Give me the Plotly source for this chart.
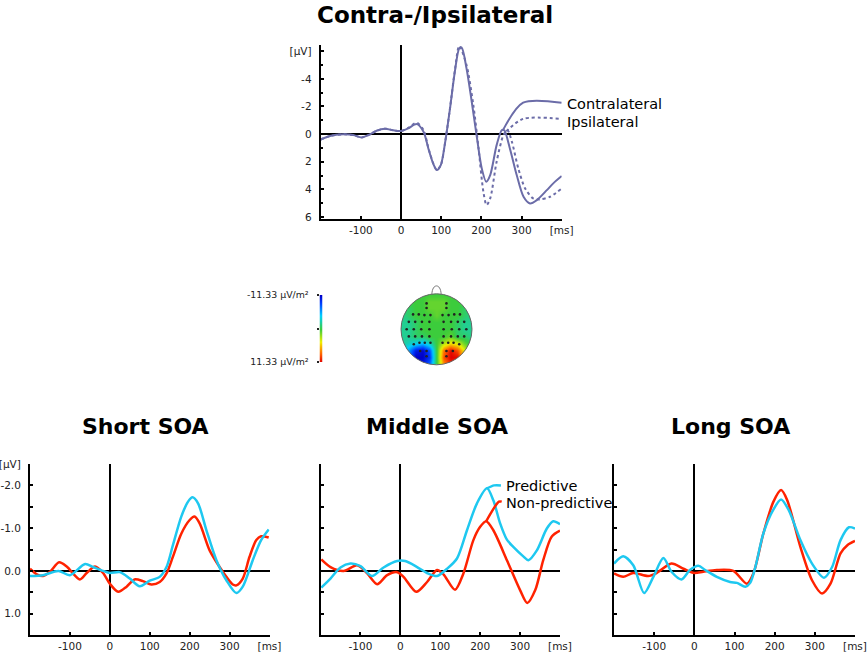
import numpy as np
import plotly.graph_objects as go

W, H = 868, 654

# ---------------- data ----------------
# Top panel: Contra-/Ipsilateral
contra_t = [-200, -177, -144, -119, -98, -77, -61, -40, -19, 0, 18, 39, 56, 68, 80, 89, 99, 110, 122, 134, 145,
            151, 163, 176, 188, 201, 212, 222, 238, 251, 257, 271, 288, 305, 321, 338, 363, 379, 400]
contra_v = [0.39, 0.14, 0.02, 0.07, 0.24, 0.02, -0.24, -0.39, -0.27, -0.22, -0.41, -0.72, -0.17, 1.04, 2.13, 2.61,
            2.25, 0.56, -1.86, -4.52, -6.21, -6.26, -4.76, -2.34, 0.07, 2.49, 3.45, 2.97, 0.8, -0.29, -0.27, 1.04,
            2.97, 4.54, 5.02, 4.78, 4.06, 3.57, 3.04]
ipsi_t = [-200, -177, -144, -119, -98, -77, -61, -40, -19, 0, 18, 39, 56, 68, 80, 89, 99, 110, 122, 134, 145, 163,
          180, 193, 205, 213, 222, 238, 255, 265, 276, 292, 309, 329, 346, 371, 400]
ipsi_v = [0.39, 0.14, 0.02, 0.07, 0.24, 0.02, -0.24, -0.39, -0.27, -0.22, -0.45, -0.82, -0.29, 1.0, 2.1, 2.6, 2.25,
          0.56, -1.9, -4.6, -6.38, -5.0, -2.1, 1.04, 4.18, 5.14, 4.66, 2.0, 0.07, -0.29, 0.56, 2.49, 3.94, 4.66,
          4.73, 4.54, 3.94]
contra_leader_t = [253, 304, 400]
contra_leader_v = [-0.25, -2.27, -2.27]
ipsi_leader_t = [262, 304, 400]
ipsi_leader_v = [-0.2, -1.1, -1.1]

# Short SOA
short_red_t = [-200, -183, -167, -150, -127, -108, -75, -58, -37, -17, 0, 21, 42, 62, 83, 104, 125, 142, 158, 179,
               200, 212, 225, 250, 275, 292, 308, 317, 333, 350, 367, 379, 398]
short_red_v = [-0.05, 0.08, 0.12, 0.02, -0.2, -0.1, 0.2, 0.05, -0.1, 0.05, 0.3, 0.49, 0.37, 0.2, 0.24, 0.32, 0.26,
               0.06, -0.33, -0.87, -1.19, -1.27, -1.11, -0.48, -0.09, 0.14, 0.32, 0.34, 0.18, -0.33, -0.72, -0.81,
               -0.78]
short_cyan_t = [-200, -167, -129, -100, -62, -42, -17, 0, 25, 50, 75, 100, 125, 142, 158, 179, 196, 207, 221, 242,
                267, 292, 317, 333, 358, 379, 398]
short_cyan_v = [0.12, 0.1, 0.0, 0.1, -0.16, -0.09, 0.0, 0.05, 0.03, 0.18, 0.36, 0.23, 0.14, -0.09, -0.6, -1.27,
                -1.62, -1.72, -1.58, -0.95, -0.25, 0.22, 0.52, 0.37, -0.25, -0.72, -0.97]

# Middle SOA
mid_red_t = [-198, -175, -142, -108, -83, -58, -33, -8, 8, 40, 67, 92, 108, 137, 158, 183, 200, 215, 233, 267, 300,
             318, 338, 358, 379, 400]
mid_red_v = [-0.27, -0.09, 0.0, -0.13, 0.06, 0.31, 0.1, 0.03, 0.14, 0.49, 0.26, -0.02, 0.08, 0.44, 0.06, -0.72,
             -1.03, -1.16, -0.95, -0.25, 0.45, 0.75, 0.45, -0.25, -0.8, -0.94]
mid_cyan_t = [-198, -175, -150, -125, -100, -71, -42, -8, 12, 42, 67, 92, 117, 142, 167, 192, 217, 233, 250, 267,
              283, 308, 321, 342, 367, 383, 400]
mid_cyan_v = [0.39, 0.18, -0.08, -0.17, -0.11, 0.12, -0.08, -0.23, -0.23, -0.09, 0.05, 0.12, -0.05, -0.29, -0.95,
              -1.58, -1.93, -1.65, -1.11, -0.73, -0.56, -0.34, -0.25, -0.48, -0.99, -1.16, -1.09]
pred_leader_t = [217, 235, 252]
pred_leader_v = [-1.93, -2.0, -2.0]
nonpred_leader_t = [215, 247, 254]
nonpred_leader_v = [-1.16, -1.62, -1.62]

# Long SOA
long_red_t = [-200, -177, -152, -115, -94, -57, -27, 0, 22, 56, 97, 131, 147, 172, 197, 216, 231, 264, 293, 318, 339,
              364, 381, 400]
long_red_v = [0.06, 0.14, 0.05, 0.12, 0.05, -0.17, -0.05, 0.05, 0.02, -0.02, 0.0, 0.3, 0.06, -0.88, -1.62, -1.89,
              -1.66, -0.56, 0.22, 0.53, 0.3, -0.41, -0.6, -0.7]
long_cyan_t = [-200, -177, -152, -125, -102, -77, -57, -32, -11, 10, 27, 56, 89, 106, 127, 139, 152, 172, 196, 216,
               235, 264, 293, 323, 343, 364, 385, 400]
long_cyan_v = [-0.17, -0.34, -0.13, 0.52, 0.14, -0.3, 0.02, 0.2, -0.02, -0.12, -0.02, 0.14, 0.26, 0.28, 0.37, 0.28,
               -0.09, -0.88, -1.42, -1.67, -1.42, -0.72, -0.17, 0.16, -0.09, -0.72, -1.02, -0.99]

x_tick_vals = [-100, 0, 100, 200, 300, 400]
x_tick_text = ["-100", "0", "100", "200", "300", "[ms]"]
top_y_tick_vals = [-6, -4, -2, 0, 2, 4, 6]
top_y_tick_text = ["[µV]", "-4", "-2", "0", "2", "4", "6"]
bot_y_tick_vals = [-2.5, -2, -1, 0, 1]
bot_y_tick_text = ["[µV]", "-2.0", "-1.0", "0.0", "1.0"]

# Topographic map (µV/m²), grid x: -1..1 step 0.2, rows from y=1 (top) to y=-1 (bottom)
topo_x = [-1.0, -0.8, -0.6, -0.4, -0.2, 0.0, 0.2, 0.4, 0.6, 0.8, 1.0]
topo_y = [1.0, 0.8, 0.6, 0.4, 0.2, 0.0, -0.2, -0.4, -0.6, -0.8, -1.0]
topo_z = [
    [0, 0, 0, 0, 0, 0, 0, 0, 0, 0, 0],
    [0, 0, 0, 0, 1, 1, 1, 0, 0, 0, 0],
    [-1, -1, 0, 0, 1, 1, 1, 0, 0, -1, -1],
    [-2, -1, 0, 0, 0, 1, 0, 0, 0, -1, -2],
    [-2, -2, -1, 0, 0, 0, 0, 0, -1, -2, -2],
    [-2, -2, -1, 0, 0, 0, 0, 0, -1, -2, -2],
    [-2, -2, -1, -1, 0, 0, 0, 1, -1, -1, -2],
    [-2, -3, -4, -5, -3, 0, 3, 5, 4, 1, -1],
    [-3, -6, -10, -11, -8, 0, 8, 11, 9, 4, 0],
    [-3, -7, -11.33, -11.33, -9, 0, 9, 11.33, 11, 5, 0],
    [-3, -6, -10, -10, -7, 0, 7, 10, 8, 4, 0],
]
cbar_vals = [-11.33, -5.665, 0.0, 5.665, 11.33]
elec_x = [-0.28, 0.28, -0.28, 0.28,
          -0.66, -0.50, -0.34, -0.17, 0.17, 0.34, 0.50, 0.66,
          -0.78, -0.60, -0.41, -0.20, 0.20, 0.41, 0.60, 0.78,
          -0.84, -0.64, -0.43, -0.20, 0.20, 0.43, 0.64, 0.84,
          -0.78, -0.60, -0.41, -0.20, 0.20, 0.41, 0.60, 0.78,
          -0.64, -0.48, -0.33, -0.17, 0.17, 0.33, 0.48, 0.64,
          -0.46, -0.28, 0.28, 0.46,
          -0.28, 0.28]
elec_y = [0.73, 0.73, 0.60, 0.60,
          0.42, 0.42, 0.40, 0.40, 0.40, 0.40, 0.42, 0.42,
          0.21, 0.21, 0.21, 0.21, 0.21, 0.21, 0.21, 0.21,
          0.0, 0.0, 0.0, 0.0, 0.0, 0.0, 0.0, 0.0,
          -0.20, -0.20, -0.20, -0.20, -0.20, -0.20, -0.20, -0.20,
          -0.42, -0.38, -0.38, -0.38, -0.38, -0.38, -0.38, -0.42,
          -0.61, -0.61, -0.61, -0.61,
          -0.76, -0.76]

# ---------------- styling ----------------
FONT = "DejaVu Sans"
SLATE = "#6b6ca8"
RED = "#ff2200"
CYAN = "#1ec8f0"
TICKFONT = dict(family=FONT, size=10.5, color="#222")
jet = [[0.0, "#0000c8"], [0.12, "#0040ff"], [0.3, "#00d0ff"], [0.5, "#3ccc3c"],
       [0.7, "#f0f000"], [0.88, "#ff6000"], [1.0, "#e00000"]]


def px(x0, x1):
    return [x0 / W, x1 / W]


def py(ytop, ybot):
    return [1 - ybot / H, 1 - ytop / H]


fig = go.Figure()


def line(t, v, color, n, dash="solid", width=2.2):
    fig.add_trace(go.Scatter(x=t, y=v, mode="lines", xaxis=f"x{n}" if n > 1 else "x",
                             yaxis=f"y{n}" if n > 1 else "y",
                             line=dict(color=color, width=width, dash=dash, shape="spline", smoothing=0.8),
                             showlegend=False, hoverinfo="skip"))


# top panel
line(contra_t, contra_v, SLATE, 1, width=2)
line(ipsi_t, ipsi_v, SLATE, 1, dash="dot", width=2)
line(contra_leader_t, contra_leader_v, SLATE, 1, width=2)
line(ipsi_leader_t, ipsi_leader_v, SLATE, 1, dash="dot", width=2)

# bottom panels
line(short_red_t, short_red_v, RED, 2, width=2.5)
line(short_cyan_t, short_cyan_v, CYAN, 2, width=2.5)
line(mid_red_t, mid_red_v, RED, 3, width=2.5)
line(mid_cyan_t, mid_cyan_v, CYAN, 3, width=2.5)
line(pred_leader_t, pred_leader_v, CYAN, 3, width=2.5)
line(nonpred_leader_t, nonpred_leader_v, RED, 3, width=2.5)
line(long_red_t, long_red_v, RED, 4, width=2.5)
line(long_cyan_t, long_cyan_v, CYAN, 4, width=2.5)

# topomap
fig.add_trace(go.Heatmap(x=topo_x, y=topo_y, z=topo_z, colorscale=jet, zmin=-11.33, zmax=11.33,
                         zsmooth="best", showscale=False, xaxis="x5", yaxis="y5", hoverinfo="skip"))
fig.add_trace(go.Scatter(x=elec_x, y=elec_y, mode="markers", xaxis="x5", yaxis="y5",
                         marker=dict(color="#222", size=2.6), showlegend=False, hoverinfo="skip"))
# colour strip
fig.add_trace(go.Heatmap(x=[0, 1], y=[0, 1, 2, 3, 4], z=[[v, v] for v in cbar_vals], colorscale=jet,
                         zmin=-11.33, zmax=11.33, zsmooth="best", showscale=False, xaxis="x6", yaxis="y6",
                         hoverinfo="skip"))

# mask outside head
ang = np.linspace(0, 2 * np.pi, 121)
circ = " ".join(("M" if i == 0 else "L") + f" {np.cos(a):.4f},{np.sin(a):.4f}" for i, a in enumerate(ang))
mask_path = "M -2,-2 L 2,-2 L 2,2 L -2,2 Z " + circ + " Z"
shapes = [
    dict(type="path", path=mask_path, xref="x5", yref="y5", fillcolor="white", line=dict(width=0),
         layer="above", fillrule="evenodd"),
    dict(type="circle", x0=-1, x1=1, y0=-1, y1=1, xref="x5", yref="y5", line=dict(color="#666", width=1),
         layer="above"),
    dict(type="path", path="M -0.13,0.99 C -0.12,1.3 0.12,1.3 0.13,0.99", xref="x5", yref="y5",
         line=dict(color="#777", width=1), layer="above"),
]

layout = dict(width=W, height=H, margin=dict(l=0, r=0, t=0, b=0, pad=0, autoexpand=False),
              paper_bgcolor="white", plot_bgcolor="rgba(0,0,0,0)", shapes=shapes, showlegend=False,
              autosize=False)

ax_common = dict(showgrid=False, zeroline=True, zerolinecolor="black", zerolinewidth=2, showline=True,
                 linecolor="black", linewidth=2, ticks="inside", ticklen=3, tickwidth=1.5, tickcolor="black",
                 tickfont=TICKFONT, fixedrange=True, automargin=False)

# panel geometry (pixels)
top_x = (320.7, 561.7)
top_y = (45, 219)
bottom_y = (464, 635)
bottom_x = [(30, 269.5), (320.5, 560), (614, 855)]

layout["xaxis"] = dict(ax_common, domain=px(*top_x), range=[-200, 400], anchor="y",
                       tickvals=x_tick_vals, ticktext=x_tick_text)
layout["yaxis"] = dict(ax_common, domain=py(*top_y), range=[6.15, -6.45], anchor="x",
                       tickvals=top_y_tick_vals, ticktext=top_y_tick_text, ticklabelstandoff=5,
                       minor=dict(dtick=1, ticks="inside", ticklen=2, tickcolor="black"))
for i, (x0, x1) in enumerate(bottom_x):
    n = i + 2
    layout[f"xaxis{n}"] = dict(ax_common, domain=px(x0, x1), range=[-200, 400], anchor=f"y{n}",
                               tickvals=x_tick_vals, ticktext=x_tick_text)
    layout[f"yaxis{n}"] = dict(ax_common, domain=py(*bottom_y), range=[1.5, -2.5], anchor=f"x{n}",
                               tickvals=bot_y_tick_vals, ticktext=bot_y_tick_text, showticklabels=(i == 0),
                               ticklabelstandoff=5,
                               minor=dict(tickvals=[-1.5, -0.5, 0.5], ticks="inside", ticklen=3,
                                          tickcolor="black"))

cx, cy, r = 436.5, 329.3, 35.5
layout["xaxis5"] = dict(domain=px(cx - 1.35 * r, cx + 1.35 * r), range=[-1.35, 1.35], visible=False,
                        anchor="y5", fixedrange=True, automargin=False)
layout["yaxis5"] = dict(domain=py(cy - 1.35 * r, cy + 1.35 * r), range=[-1.35, 1.35], visible=False,
                        anchor="x5", fixedrange=True, automargin=False)
layout["xaxis6"] = dict(domain=px(319.5, 322.5), range=[0, 1], visible=False, anchor="y6", fixedrange=True,
                        automargin=False)
layout["yaxis6"] = dict(domain=py(295, 362), range=[4, 0], anchor="x6", showgrid=False, zeroline=False,
                        showline=False, ticks="outside", ticklen=2, tickwidth=1.5, tickcolor="#222",
                        tickvals=[0, 2, 4], ticktext=["-11.33 µV/m²", "", "11.33 µV/m²"],
                        tickfont=dict(family=FONT, size=9.4, color="#222"), ticklabelstandoff=6,
                        fixedrange=True, automargin=False)


def ann(text, x, y, size, bold=False, xanchor="center", yanchor="middle"):
    return dict(text=f"<b>{text}</b>" if bold else text, x=x / W, y=1 - y / H, xref="paper", yref="paper",
                showarrow=False, xanchor=xanchor, yanchor=yanchor,
                font=dict(family=FONT, size=size, color="black"))


layout["annotations"] = [
    ann("Contra-/Ipsilateral", 435, 0, 23, bold=True, yanchor="top"),
    ann("Short SOA", 145, 426, 22, bold=True),
    ann("Middle SOA", 437, 426, 22, bold=True),
    ann("Long SOA", 730, 426, 22, bold=True),
    ann("Contralateral", 565, 104, 14.5, xanchor="left"),
    ann("Ipsilateral", 565, 122, 14.5, xanchor="left"),
    ann("Predictive", 504, 486, 14.5, xanchor="left"),
    ann("Non-predictive", 504, 503, 14.5, xanchor="left"),
]

fig.update_layout(layout)
fig.write_html("out.html", config={"responsive": False, "displayModeBar": False},
               post_script="document.body.style.margin='0px';document.body.style.padding='0px';"
                           "document.body.style.overflow='hidden';")
